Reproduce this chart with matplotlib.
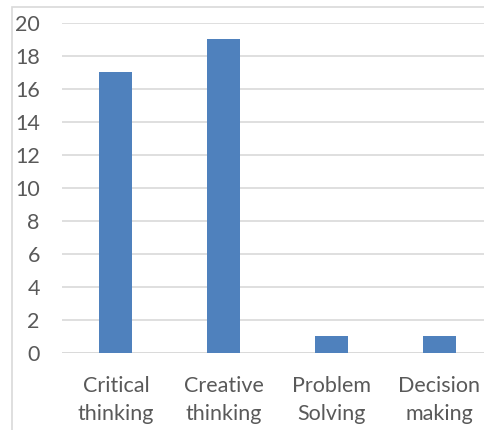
import matplotlib.pyplot as plt
from matplotlib.patches import Rectangle

skills = ['Critical\nthinking', 'Creative\nthinking', 'Problem\nSolving', 'Decision\nmaking']
counts = [17, 19, 1, 1]
yticks = list(range(0, 21, 2))

plt.rcParams['font.family'] = ['Lato', 'DejaVu Sans']

fig = plt.figure(figsize=(4.85, 4.30), dpi=100)
ax = fig.add_axes([62 / 485, 1 - 352.7 / 430, 431 / 485, 330 / 430])

x = range(len(skills))
ax.bar(x, counts, width=0.305, color='#4f81bd', zorder=3)

ax.set_xlim(-0.5, len(skills) - 0.5)
ax.set_ylim(0, 20)
ax.set_yticks(yticks)
ax.set_xticks(list(x))
ax.set_xticklabels(skills, fontsize=15.5, color='#595959', linespacing=1.45)
ax.tick_params(axis='y', labelsize=15.5, labelcolor='#595959', length=0, pad=16)
ax.tick_params(axis='x', length=0, pad=17)
ax.grid(axis='y', color='#d9d9d9', linewidth=1.2, zorder=0)
for side in ax.spines.values():
    side.set_visible(False)
ax.axhline(0, color='#d9d9d9', linewidth=1.2, zorder=1)

# chart frame
fig.patches.append(Rectangle((12 / 485, -0.1), 2, (430 - 7) / 430 + 0.1,
                             transform=fig.transFigure, fill=False,
                             edgecolor='#d9d9d9', linewidth=1.2))

fig.savefig('out.png', dpi=100)
